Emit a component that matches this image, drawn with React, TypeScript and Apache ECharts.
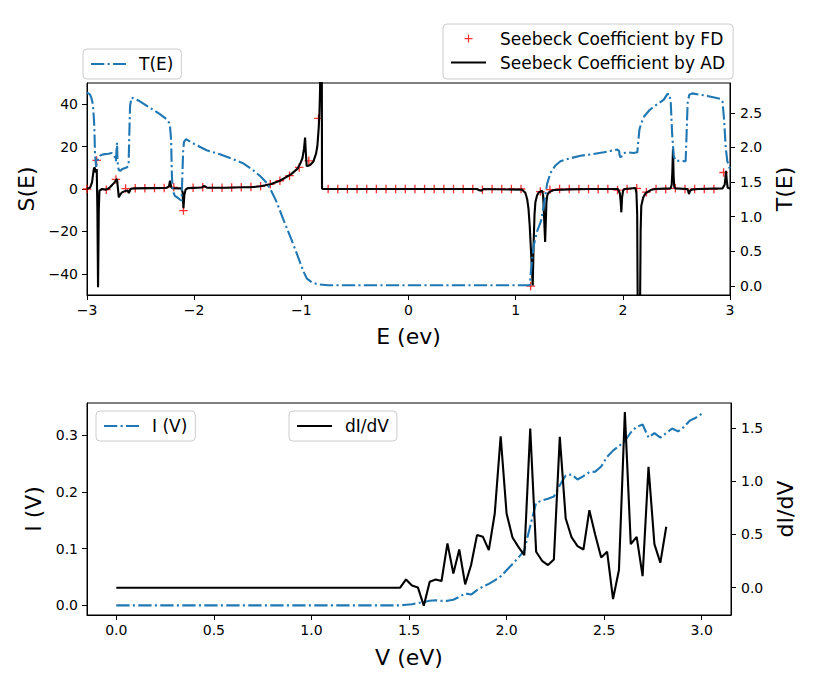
import React, { useEffect, useRef } from 'react';
import * as echarts from 'echarts';

// ---------- data ----------
const seebeckFD: number[][] = [
  [-3.0, 0], [-2.91, 13.5], [-2.82, -0.3], [-2.73, 4.5], [-2.64, 0.2], [-2.55, 0.3], [-2.46, 0.4],
  [-2.37, 0.5], [-2.28, 0.5], [-2.19, 0.8], [-2.1, -10.2], [-2.01, 0.6], [-1.92, 0.8], [-1.83, 0.6],
  [-1.74, 0.6], [-1.65, 0.7], [-1.56, 0.8], [-1.47, 0.9], [-1.38, 1.3], [-1.29, 2.2], [-1.2, 3.9],
  [-1.11, 6.3], [-1.02, 10.2], [-0.93, 13.3], [-0.84, 33.3], [-0.75, 0], [-0.66, 0], [-0.57, 0],
  [-0.48, 0], [-0.39, 0], [-0.3, 0], [-0.21, 0], [-0.12, 0], [-0.03, 0], [0.06, 0], [0.15, 0],
  [0.24, 0], [0.33, 0], [0.42, 0], [0.51, 0], [0.6, 0], [0.69, -0.3], [0.78, 0], [0.87, 0],
  [0.96, 0], [1.05, 0], [1.14, -45.8], [1.23, -1.2], [1.32, -0.3], [1.41, 0], [1.5, 0], [1.59, 0],
  [1.68, 0], [1.77, 0], [1.86, 0], [1.95, -0.5], [2.04, 0], [2.13, 0.3], [2.22, -1.5], [2.31, 0],
  [2.4, 0], [2.49, 0.3], [2.58, 0], [2.67, 0], [2.76, 0], [2.85, 0], [2.94, 7.8],
];

const seebeckAD: number[][] = [
  [-3.0, 0], [-2.97, 0.8], [-2.953, 3.1], [-2.937, 9.4], [-2.928, 10.2], [-2.919, 7.8], [-2.909, 9.4],
  [-2.903, -10], [-2.897, -46.3], [-2.89, -10], [-2.884, -0.8], [-2.86, 0], [-2.82, -0.3], [-2.79, 0.6],
  [-2.766, 1.9], [-2.745, 3.0], [-2.729, 4.2], [-2.72, 4.7], [-2.712, 0.5], [-2.703, -3.9], [-2.69, -2.6],
  [-2.673, -1.6], [-2.641, -0.9], [-2.62, -0.7], [-2.61, -1.9], [-2.602, -1.2], [-2.595, 0], [-2.564, 0.3],
  [-2.4, 0.4], [-2.26, 0.5], [-2.235, 1.2], [-2.225, 3.9], [-2.215, 1.2], [-2.205, 0.4], [-2.12, 0.3],
  [-2.108, -1.5], [-2.1, -9], [-2.092, -3], [-2.08, -0.3], [-2.06, 0.4], [-1.93, 0.7], [-1.91, 1.4],
  [-1.895, 1.2], [-1.88, 0.6], [-1.7, 0.6], [-1.55, 0.8], [-1.475, 0.8], [-1.38, 1.3], [-1.288, 2.2],
  [-1.2, 3.9], [-1.097, 6.9], [-1.035, 9.6], [-1.01, 12], [-0.99, 14.5], [-0.975, 19], [-0.965, 24.3],
  [-0.958, 17], [-0.95, 10.8], [-0.935, 11], [-0.918, 11.3], [-0.9, 12.3], [-0.887, 13], [-0.862, 16.8],
  [-0.85, 20.5], [-0.844, 24.6], [-0.837, 29.5], [-0.831, 35.6], [-0.826, 45], [-0.82, 70], [-0.812, 150],
  [-0.807, 0.3], [-0.8, 0], [0.64, 0], [0.66, -0.6], [0.68, -0.8], [0.7, 0], [1.06, -0.3], [1.09, -1.8],
  [1.107, -4.7], [1.12, -9.5], [1.131, -17.3], [1.147, -33], [1.159, -45.5], [1.168, -25], [1.176, -12],
  [1.184, -6.3], [1.2, -3], [1.215, -1.6], [1.247, -0.8], [1.256, -3], [1.262, -9.4], [1.275, -25],
  [1.287, -6.3], [1.295, -3], [1.308, -1.6], [1.355, -0.5], [1.5, -0.2], [1.7, 0], [1.955, 0],
  [1.972, -2], [1.98, -6], [1.986, -11], [1.993, -4], [2.003, -0.5], [2.02, 0], [2.118, 0.5],
  [2.127, -2], [2.134, -12], [2.139, -60], [2.16, -60], [2.166, -20], [2.172, -8], [2.19, -4],
  [2.212, -2], [2.26, -0.5], [2.3, 0], [2.445, 0.3], [2.456, 2], [2.462, 8], [2.468, 18.8], [2.474, 6],
  [2.48, 1], [2.49, 0.3], [2.6, 0], [2.61, -1], [2.617, -2.4], [2.625, -1], [2.64, -0.3], [2.7, 0],
  [2.93, 0.3], [2.95, 2], [2.957, 5], [2.963, 8.6], [2.97, 4], [2.978, 0.6], [3.0, 0.3],
];

const transmission: number[][] = [
  [-3.0, 2.79], [-2.975, 2.77], [-2.96, 2.72], [-2.945, 2.62], [-2.935, 2.4], [-2.93, 2.2], [-2.925, 1.9],
  [-2.915, 1.72], [-2.905, 1.78], [-2.895, 1.85], [-2.88, 1.88], [-2.85, 1.9], [-2.8, 1.91], [-2.77, 1.92],
  [-2.75, 1.89], [-2.74, 1.86], [-2.73, 1.8], [-2.725, 1.95], [-2.72, 2.07], [-2.715, 1.8], [-2.705, 1.68],
  [-2.69, 1.66], [-2.67, 1.69], [-2.63, 1.71], [-2.612, 1.74], [-2.605, 2.2], [-2.598, 2.6], [-2.585, 2.72],
  [-2.51, 2.67], [-2.42, 2.58], [-2.32, 2.48], [-2.26, 2.41], [-2.235, 2.36], [-2.225, 2.3], [-2.215, 2.1],
  [-2.208, 1.6], [-2.2, 1.38], [-2.18, 1.3], [-2.15, 1.27], [-2.118, 1.23], [-2.11, 1.6], [-2.103, 1.95],
  [-2.095, 2.08], [-2.075, 2.12], [-2.0, 2.05], [-1.884, 1.96], [-1.76, 1.9], [-1.636, 1.83], [-1.542, 1.77],
  [-1.449, 1.67], [-1.38, 1.58], [-1.324, 1.49], [-1.28, 1.37], [-1.23, 1.21], [-1.17, 0.97], [-1.105, 0.72],
  [-1.05, 0.5], [-1.012, 0.34], [-0.98, 0.21], [-0.95, 0.11], [-0.9, 0.05], [-0.85, 0.025], [-0.75, 0.01],
  [1.131, 0.01], [1.144, 0.24], [1.168, 0.58], [1.2, 0.79], [1.237, 0.94], [1.262, 1.16], [1.293, 1.47],
  [1.324, 1.63], [1.371, 1.74], [1.418, 1.8], [1.5, 1.84], [1.605, 1.88], [1.7, 1.9], [1.823, 1.93],
  [1.948, 1.97], [1.965, 1.95], [1.972, 1.87], [1.985, 1.86], [2.0, 1.91], [2.03, 1.93], [2.1, 1.92],
  [2.135, 1.93], [2.145, 2.1], [2.155, 2.26], [2.175, 2.36], [2.2, 2.45], [2.25, 2.54], [2.3, 2.6],
  [2.383, 2.69], [2.415, 2.77], [2.435, 2.77], [2.447, 2.65], [2.46, 2.2], [2.475, 1.88], [2.49, 1.81],
  [2.586, 1.8], [2.595, 2.2], [2.605, 2.65], [2.62, 2.76], [2.648, 2.78], [2.8, 2.74], [2.91, 2.7],
  [2.93, 2.66], [2.945, 2.4], [2.96, 2.0], [2.975, 1.8], [3.0, 1.69],
];

const voltage: number[] = [
  0, 1.4242, 1.4545, 1.4848, 1.5152, 1.5455, 1.5758, 1.6061, 1.6364, 1.6667, 1.697, 1.7273, 1.7576,
  1.7879, 1.8182, 1.8485, 1.8788, 1.9091, 1.9394, 1.9697, 2.0, 2.0303, 2.0606, 2.0909, 2.1212, 2.1515,
  2.1818, 2.2121, 2.2424, 2.2727, 2.303, 2.3333, 2.3636, 2.3939, 2.4242, 2.4545, 2.4848, 2.5152, 2.5455,
  2.5758, 2.6061, 2.6364, 2.6667, 2.697, 2.7273, 2.7576, 2.7879, 2.8182, 2.8485, 2.8788, 2.9091, 2.9394,
  2.9697, 3.0,
];

const current: number[] = [
  0, 0, 0, 0.001, 0.002, 0.004, 0.006, 0.008, 0.009, 0.008, 0.008, 0.01, 0.015,
  0.021, 0.019, 0.027, 0.033, 0.038, 0.044, 0.051, 0.062, 0.073, 0.084, 0.097, 0.14, 0.181,
  0.185, 0.188, 0.192, 0.212, 0.229, 0.231, 0.222, 0.228, 0.235, 0.236, 0.245, 0.262, 0.273,
  0.281, 0.29, 0.305, 0.315, 0.319, 0.296, 0.304, 0.296, 0.304, 0.312, 0.307, 0.315, 0.326,
  0.331, 0.338,
];

const conductance: number[] = [
  0, 0, 0, 0.078, 0.02, 0.003, -0.169, 0.056, 0.078, 0.063, 0.416, 0.134, 0.359,
  0.031, 0.213, 0.494, 0.478, 0.353, 0.697, 1.422, 0.697, 0.472, 0.384, 0.306, 1.494, 0.338,
  0.253, 0.213, 0.266, 1.416, 0.65, 0.472, 0.391, 0.359, 0.728, 0.494, 0.284, 0.338, -0.106,
  0.166, 1.65, 0.409, 0.478, 0.109, 1.134, 0.409, 0.234, 0.572,
];

const eTicks = [-3, -2, -1, 0, 1, 2, 3];
const sTicks = [-40, -20, 0, 20, 40];
const tTicks = [0, 0.5, 1, 1.5, 2, 2.5];
const vTicks = [0, 0.5, 1, 1.5, 2, 2.5, 3];
const iTicks = [0, 0.1, 0.2, 0.3];
const gTicks = [0, 0.5, 1, 1.5];

// ---------- styling ----------
const FONT = 'DejaVu Sans';
const BLUE = '#1f77b4';
const DASHDOT = [13.3, 3.3, 2.1, 3.3];
const PLUS = 'path://M3.375,0H4.625V3.375H8V4.625H4.625V8H3.375V4.625H0V3.375H3.375Z';
const minus = (s: string) => s.replace('-', '\u2212');
const intFmt = (v: number) => minus(String(Math.round(v)));
const oneFmt = (v: number) => minus(v.toFixed(1));

function valueAxis(o: any) {
  const { ticks, fmt, labelMargin, ...rest } = o;
  return {
    type: 'value',
    axisLine: { show: true, onZero: false, lineStyle: { color: '#000', width: 1 } },
    axisTick: { show: true, length: 5, customValues: ticks, lineStyle: { color: '#000', width: 1 } },
    axisLabel: {
      customValues: ticks,
      formatter: fmt,
      color: '#000',
      fontSize: 14,
      fontFamily: FONT,
      margin: labelMargin ?? 9,
    },
    splitLine: { show: false },
    nameLocation: 'middle',
    nameTextStyle: { fontSize: 22, color: '#000', fontFamily: FONT },
    ...rest,
  };
}

const legendBase = {
  orient: 'vertical',
  itemWidth: 35,
  itemHeight: 8,
  borderColor: '#cccccc',
  borderWidth: 1,
  borderRadius: 4,
  backgroundColor: 'rgba(255,255,255,0.8)',
  selectedMode: false,
  textStyle: { fontSize: 17, fontFamily: FONT, color: '#000', padding: [0, 0, 0, 8] },
};
const hideSym = { opacity: 0 };

const option: any = {
  animation: false,
  backgroundColor: '#fff',
  textStyle: { fontFamily: FONT },
  grid: [
    { left: 87, top: 83, width: 643, height: 212, show: true, borderColor: '#000', borderWidth: 1, backgroundColor: 'transparent' },
    { left: 87, top: 403, width: 644, height: 212, show: true, borderColor: '#000', borderWidth: 1, backgroundColor: 'transparent' },
  ],
  xAxis: [
    valueAxis({ gridIndex: 0, min: -3, max: 3, ticks: eTicks, fmt: intFmt, name: 'E (ev)', nameGap: 30, labelMargin: 8 }),
    valueAxis({ gridIndex: 1, min: -0.15, max: 3.15, ticks: vTicks, fmt: oneFmt, name: 'V (eV)', nameGap: 31, labelMargin: 8 }),
  ],
  yAxis: [
    valueAxis({ gridIndex: 0, min: -50, max: 50, ticks: sTicks, fmt: intFmt, name: 'S(E)', nameGap: 44, nameRotate: 90 }),
    valueAxis({ gridIndex: 0, position: 'right', min: -0.13, max: 2.93, ticks: tTicks, fmt: oneFmt, name: 'T(E)', nameGap: 38, nameRotate: 90, labelMargin: 10 }),
    valueAxis({ gridIndex: 1, min: -0.017, max: 0.357, ticks: iTicks, fmt: oneFmt, name: 'I (V)', nameGap: 37, nameRotate: 90 }),
    valueAxis({ gridIndex: 1, position: 'right', min: -0.256, max: 1.734, ticks: gTicks, fmt: oneFmt, name: 'dI/dV', nameGap: 38, nameRotate: 90, labelMargin: 10 }),
  ],
  legend: [
    { ...legendBase, left: 83, top: 49, padding: [6.5, 8, 6.5, 7], data: [{ name: 'T(E)', itemStyle: hideSym }] },
    {
      ...legendBase, left: 443, top: 24, padding: [6, 8, 8, 7], itemGap: 7,
      textStyle: { ...legendBase.textStyle, padding: [0, 0, 0, 9] },
      data: [
        { name: 'Seebeck Coefficient by FD', icon: PLUS },
        { name: 'Seebeck Coefficient by AD', itemStyle: hideSym },
      ],
    },
    { ...legendBase, left: 96, top: 411, padding: [6.5, 8, 6.5, 7], data: [{ name: 'I (V)', itemStyle: hideSym }] },
    { ...legendBase, left: 289, top: 411, padding: [6.5, 8, 6.5, 7], data: [{ name: 'dI/dV', itemStyle: hideSym }] },
  ],
  series: [
    {
      name: 'Seebeck Coefficient by FD', type: 'scatter', xAxisIndex: 0, yAxisIndex: 0,
      data: seebeckFD, symbol: PLUS, symbolSize: 8.5, itemStyle: { color: '#ff0000' }, z: 2,
    },
    {
      name: 'Seebeck Coefficient by AD', type: 'line', xAxisIndex: 0, yAxisIndex: 0,
      data: seebeckAD, symbol: 'none', lineStyle: { color: '#000', width: 2.1 }, itemStyle: { color: '#000' }, z: 3,
    },
    {
      name: 'T(E)', type: 'line', xAxisIndex: 0, yAxisIndex: 1,
      data: transmission, symbol: 'none', lineStyle: { color: BLUE, width: 2.1, type: DASHDOT }, itemStyle: { color: BLUE }, z: 4,
    },
    {
      name: 'I (V)', type: 'line', xAxisIndex: 1, yAxisIndex: 2,
      data: voltage.map((v, i) => [v, current[i]]), symbol: 'none',
      lineStyle: { color: BLUE, width: 2.1, type: DASHDOT }, itemStyle: { color: BLUE }, z: 3,
    },
    {
      name: 'dI/dV', type: 'line', xAxisIndex: 1, yAxisIndex: 3,
      data: conductance.map((g, i) => [voltage[i], g]), symbol: 'none',
      lineStyle: { color: '#000', width: 2.1 }, itemStyle: { color: '#000' }, z: 4,
    },
  ],
};

export default function App() {
  const ref = useRef<HTMLDivElement>(null);
  useEffect(() => {
    const chart = echarts.init(ref.current as HTMLDivElement, null, { renderer: 'svg' });
    chart.setOption(option);
    return () => chart.dispose();
  }, []);
  return (
    <div
      ref={ref}
      style={{ position: 'fixed', left: 0, top: 0, width: 830, height: 685, background: '#fff' }}
    />
  );
}
